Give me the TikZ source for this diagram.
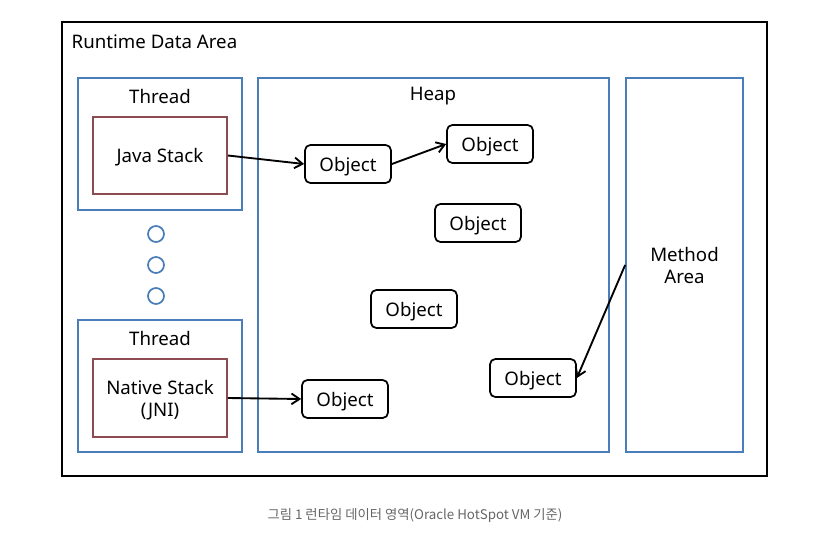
\documentclass[tikz,border=0pt]{standalone}
\usepackage{fontspec}
\setmainfont{Noto Sans}
\newfontfamily\krfont{Noto Sans CJK KR}
\usepackage{xcolor}
\usepackage{tikz}
\usetikzlibrary{arrows.meta,positioning}
\definecolor{areablue}{RGB}{74,126,187}
\definecolor{stackred}{RGB}{140,76,82}
\definecolor{capgray}{RGB}{102,102,102}
\tikzset{
  areabox/.style={draw=areablue,line width=1.3pt,inner sep=0pt,text depth=0pt},
  stackbox/.style={draw=stackred,line width=1.3pt,inner sep=0pt,align=center,
    text depth=0pt,minimum width=100.5pt},
  objbox/.style={draw,line width=1.3pt,rounded corners=4pt,inner sep=0pt,text depth=0pt,
    minimum width=64.5pt,minimum height=28.5pt},
  ref/.style={-{Straight Barb[length=6pt,width=8pt]},line width=1.4pt},
  dotc/.style={draw=areablue,line width=1.3pt,circle,inner sep=0pt,minimum size=12pt},
}

\begin{document}
\begin{tikzpicture}[x=0.75pt,y=-0.75pt,font=\fontsize{14}{16.5}\selectfont]
        \useasboundingbox (0,0) rectangle (820,543);
        % outer frame: 1 unit = 1 px of the 820x543 sheet
        \node[draw,line width=1.5pt,minimum width=528.75pt,minimum height=340.5pt] (rda) at (414.5,249){};
        \node[anchor=west] (rdatitle) at (67,42){Runtime Data Area};
        % threads on the left
        \node[areabox,minimum width=123pt,minimum height=99pt] (thA) at (160,144){};
        \node (thAtitle) at (160,96){Thread};
        \node[stackbox,minimum height=57.75pt] (jstack) at (160,155.5){Java Stack};
        \foreach \y [count=\i] in {234,265,296}
          {\node[dotc] (dot\i) at (156,\y){};}
        \node[areabox,minimum width=123pt,minimum height=99pt] (thB) at (160,386){};
        \node (thBtitle) at (160,338){Thread};
        \node[stackbox,minimum height=58.5pt] (nstack) at (160,398){Native Stack\\(JNI)};
        % heap and method area
        \node[areabox,minimum width=263.25pt,minimum height=280.5pt] (heap) at (433.5,265){};
        \node (heaptitle) at (433,96){Heap};
        \node[areabox,align=center,minimum width=87.75pt,minimum height=280.5pt] (mth) at (684.5,265){Method\\Area};
        % objects in the heap
        \node[objbox] (objA) at (348,164){Object};
        \node[objbox] (objB) at (490,144){Object};
        \node[objbox] (objC) at (478,223){Object};
        \node[objbox] (objD) at (414,309){Object};
        \node[objbox] (objE) at (533,378){Object};
        \node[objbox] (objF) at (345,399){Object};
        % references
        \draw[ref] (jstack.east) -- (objA.west);
        \draw[ref] (objA.east) -- (objB.west);
        \draw[ref] (nstack.east) -- (objF.west);
        \draw[ref] (mth.west) -- (objE.east);
        % caption
        \node[capgray,font=\krfont\fontsize{10}{12}\selectfont] (cap) at (415,516){그림 1 런타임 데이터 영역(Oracle HotSpot VM 기준)};
      \end{tikzpicture}
\end{document}
